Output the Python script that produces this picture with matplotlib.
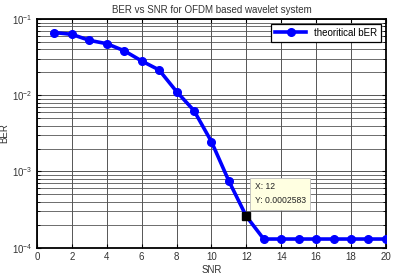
import numpy as np
import matplotlib.pyplot as plt
from matplotlib.ticker import LogLocator, FixedLocator

plt.rcParams['font.family'] = ['Liberation Sans', 'DejaVu Sans']

snr = [1, 2, 3, 4, 5, 6, 7, 8, 9, 10, 11, 12, 13, 14, 15, 16, 17, 18, 19, 20]
ber = [0.0665, 0.063, 0.0526, 0.0475, 0.0384, 0.0282, 0.0215, 0.0112, 0.0063,
       0.00247, 0.00075, 0.0002583, 0.00013, 0.00013, 0.00013, 0.00013,
       0.00013, 0.00013, 0.00013, 0.00013]
tip_x, tip_y = 12, 0.0002583

fig = plt.figure(figsize=(3.97, 2.76), dpi=100)
ax = fig.add_axes([0.093, 0.1025, 0.879, 0.8285])

ax.semilogy(snr, ber, '-o', color='#0000ff', lw=2.6, ms=5.5,
            mfc='#0000ff', mec='#0000ff', label='theoritical bER', zorder=3)

ax.set_xlim(0, 20)
ax.set_ylim(1e-4, 1e-1)
ax.xaxis.set_major_locator(FixedLocator(range(0, 21, 2)))
ax.yaxis.set_major_locator(LogLocator(base=10, numticks=10))
ax.yaxis.set_minor_locator(LogLocator(base=10, subs=np.arange(2, 10), numticks=10))
ax.grid(True, which='major', color='#555555', lw=0.7)
ax.grid(True, which='minor', axis='y', color='#555555', lw=0.6)

ax.tick_params(which='both', direction='in', top=True, right=True,
               labelsize=7, pad=3, labelcolor='#333333')
ax.tick_params(which='major', length=3)
ax.tick_params(which='minor', length=2, labelleft=False)
for s in ax.spines.values():
    s.set_linewidth(1.3)

ax.set_title('BER vs SNR for OFDM based wavelet system', fontsize=7, pad=4,
             color='#333333')
ax.set_xlabel('SNR', fontsize=7, labelpad=2, color='#333333')
ax.set_ylabel('BER', fontsize=7, labelpad=2, color='#333333')

leg = ax.legend(loc='upper right', fontsize=7, fancybox=False,
                framealpha=1, edgecolor='black', handlelength=3.2,
                borderaxespad=0.5)
leg.get_frame().set_linewidth(0.9)

# data tip
ax.plot([tip_x], [tip_y], 's', color='black', ms=6, zorder=5)
ax.annotate('X: 12\nY: 0.0002583', xy=(tip_x, tip_y), xytext=(6, 8),
            textcoords='offset points', fontsize=6.2, va='bottom', ha='left',
            linespacing=1.7, color='#222222',
            bbox=dict(boxstyle='square,pad=0.55', fc='#ffffe1', ec='#bbbbbb', lw=0.6),
            zorder=6)

fig.savefig('out.png', dpi=100)
